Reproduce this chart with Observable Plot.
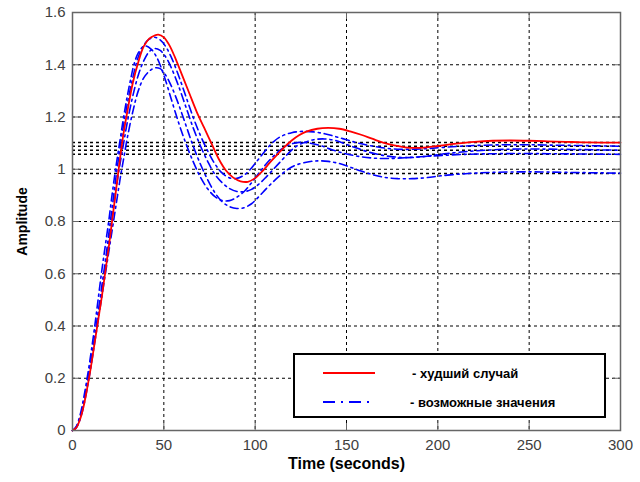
<!DOCTYPE html>
<html><head><meta charset="utf-8">
<script src="https://cdn.jsdelivr.net/npm/d3@7"></script>
<script src="https://cdn.jsdelivr.net/npm/@observablehq/plot@0.6"></script>
<style>body{margin:0;background:#fff} #chart{position:relative;width:640px;height:482px}</style>
</head><body><div id="chart"></div><script>
const xTicks = [0, 50, 100, 150, 200, 250, 300];
const yTicks = [0, 0.2, 0.4, 0.6, 0.8, 1, 1.2, 1.4, 1.6];
const yTickLabels = ["0", "0.2", "0.4", "0.6", "0.8", "1", "1.2", "1.4", "1.6"];
const steadyLevels = [1.102, 1.088, 1.073, 1.057, 0.984];
const legendLabels = ["- худший случай", "- возможные значения"];
const xLabel = "Time (seconds)";
const yLabel = "Amplitude";

// worst case (red)
const worstCase = [[0,0],[2,0.01],[4,0.04],[6,0.09],[8,0.16],[10,0.24],[12,0.33],[14,0.42],[16,0.51],[18,0.61],[20,0.71],[22,0.82],[24,0.93],[26,1.04],[28,1.14],[30,1.22],[33,1.33],[36,1.41],[39,1.47],[42,1.50],[45,1.512],[47,1.515],[50,1.505],[53,1.475],[56,1.43],[60,1.36],[64,1.29],[68,1.22],[72,1.16],[76,1.10],[80,1.04],[84,0.995],[88,0.968],[92,0.954],[96,0.952],[100,0.966],[104,0.993],[108,1.025],[112,1.055],[116,1.085],[120,1.11],[124,1.13],[128,1.144],[134,1.155],[140,1.158],[146,1.155],[152,1.145],[158,1.132],[164,1.117],[170,1.102],[176,1.091],[182,1.084],[188,1.082],[194,1.084],[200,1.089],[210,1.098],[220,1.105],[230,1.109],[240,1.11],[250,1.109],[260,1.107],[270,1.105],[280,1.103],[290,1.102],[300,1.102]];
// possible values (blue)
const possibleA = [[0,0],[2,0.012],[4,0.045],[6,0.10],[8,0.175],[10,0.26],[12,0.35],[14,0.45],[16,0.55],[18,0.65],[20,0.76],[22,0.87],[24,0.98],[26,1.08],[28,1.17],[30,1.25],[33,1.35],[36,1.43],[39,1.475],[42,1.498],[45,1.505],[48,1.495],[51,1.47],[54,1.43],[58,1.36],[62,1.28],[66,1.20],[70,1.13],[74,1.07],[78,1.02],[82,0.985],[86,0.967],[90,0.965],[94,0.978],[98,1.005],[102,1.04],[106,1.075],[110,1.105],[114,1.125],[120,1.14],[126,1.145],[132,1.143],[138,1.136],[144,1.125],[150,1.113],[156,1.101],[164,1.089],[172,1.08],[180,1.076],[188,1.077],[196,1.08],[210,1.087],[225,1.092],[245,1.094],[265,1.092],[285,1.09],[300,1.088]];
const possibleB = [[0,0],[2,0.012],[4,0.045],[6,0.10],[8,0.17],[10,0.255],[12,0.345],[14,0.44],[16,0.535],[18,0.63],[20,0.73],[22,0.83],[24,0.93],[26,1.02],[28,1.10],[30,1.18],[33,1.28],[36,1.36],[39,1.415],[42,1.45],[45,1.462],[48,1.455],[51,1.43],[54,1.39],[58,1.32],[62,1.24],[66,1.16],[70,1.09],[74,1.03],[78,0.98],[82,0.948],[86,0.926],[90,0.915],[94,0.914],[98,0.923],[102,0.943],[106,0.97],[110,1.0],[114,1.03],[118,1.06],[122,1.085],[126,1.10],[132,1.113],[138,1.116],[144,1.11],[150,1.095],[156,1.08],[162,1.066],[170,1.053],[178,1.046],[186,1.045],[194,1.05],[205,1.06],[220,1.07],[240,1.077],[260,1.077],[280,1.075],[300,1.073]];
const possibleC = [[0,0],[2,0.015],[4,0.055],[6,0.12],[8,0.20],[10,0.29],[12,0.39],[14,0.50],[16,0.61],[18,0.71],[20,0.81],[22,0.92],[24,1.02],[26,1.11],[28,1.20],[30,1.28],[32,1.35],[34,1.41],[36,1.445],[38,1.465],[40,1.472],[43,1.46],[46,1.43],[50,1.36],[54,1.27],[58,1.18],[62,1.10],[66,1.03],[70,0.97],[74,0.925],[78,0.895],[82,0.88],[86,0.88],[90,0.893],[94,0.915],[98,0.948],[102,0.985],[106,1.02],[110,1.05],[114,1.075],[118,1.092],[124,1.103],[130,1.10],[136,1.09],[142,1.075],[148,1.062],[156,1.05],[164,1.043],[172,1.041],[182,1.044],[195,1.05],[215,1.057],[240,1.06],[270,1.059],[300,1.057]];
const possibleD = [[0,0],[2,0.01],[4,0.04],[6,0.09],[8,0.16],[10,0.24],[12,0.33],[14,0.42],[16,0.51],[18,0.60],[20,0.69],[22,0.78],[24,0.87],[26,0.96],[28,1.04],[30,1.12],[33,1.22],[36,1.30],[39,1.35],[42,1.375],[45,1.388],[48,1.385],[51,1.36],[54,1.32],[58,1.25],[62,1.17],[66,1.09],[70,1.02],[74,0.96],[78,0.91],[82,0.875],[86,0.857],[90,0.85],[94,0.853],[98,0.868],[102,0.895],[106,0.925],[110,0.953],[114,0.978],[118,1.0],[122,1.015],[128,1.027],[134,1.032],[140,1.03],[146,1.022],[152,1.008],[158,0.993],[164,0.98],[170,0.97],[178,0.964],[186,0.964],[194,0.968],[202,0.975],[215,0.983],[230,0.988],[250,0.99],[270,0.988],[300,0.985]];

const toRows = (name, pts) => pts.map(([t, y]) => ({name, t, y}));
const redRows = toRows("worst", worstCase);
const blueRows = [
  ...toRows("A", possibleA), ...toRows("B", possibleB),
  ...toRows("C", possibleC), ...toRows("D", possibleD)
];

const W = 640, H = 482, mL = 72, mR = 20, mT = 12, mB = 52;
const plotW = W - mL - mR, plotH = H - mT - mB;
const gridStyle = {stroke: "#000", strokeWidth: 1, strokeDasharray: "3,3"};
const blueDash = "8,4,2,4";

const chart = Plot.plot({
  width: W, height: H,
  marginLeft: mL, marginRight: mR, marginTop: mT, marginBottom: mB,
  style: {fontFamily: "Arial, 'Liberation Sans', sans-serif", fontSize: "15px", color: "#404040", background: "#fff", overflow: "visible"},
  x: {domain: [0, 300]},
  y: {domain: [0, 1.6]},
  marks: [
    Plot.ruleX(xTicks.slice(1, -1), {x: d => d, ...gridStyle}),
    Plot.ruleY(yTicks.slice(1, -1), {y: d => d, ...gridStyle}),
    Plot.ruleY(steadyLevels, {y: d => d, ...gridStyle, strokeWidth: 1.5}),
    Plot.line(blueRows, {x: "t", y: "y", z: "name", stroke: "#0000ff", strokeWidth: 1.6, strokeDasharray: blueDash, curve: "catmull-rom"}),
    Plot.line(redRows, {x: "t", y: "y", stroke: "#ff0000", strokeWidth: 1.8, curve: "catmull-rom"}),
    Plot.tickX(xTicks, {x: d => d, stroke: "#666", insetTop: plotH - 7}),
    Plot.tickX(xTicks, {x: d => d, stroke: "#666", insetBottom: plotH - 7}),
    Plot.tickY(yTicks, {y: d => d, stroke: "#666", insetRight: plotW - 7}),
    Plot.tickY(yTicks, {y: d => d, stroke: "#666", insetLeft: plotW - 7}),
    Plot.frame({stroke: "#666", strokeWidth: 1.5}),
    Plot.axisX({ticks: xTicks, tickSize: 0, tickPadding: 9, tickFormat: d => String(d), label: null}),
    Plot.axisY({ticks: yTicks, tickSize: 0, tickPadding: 7, tickFormat: d => yTickLabels[yTicks.indexOf(d)], label: null}),
    Plot.text([xLabel], {text: d => d, frameAnchor: "bottom", dy: 38, fontWeight: "bold", fontSize: 16, fill: "#000"}),
    Plot.text([yLabel], {text: d => d, frameAnchor: "left", dx: -50, rotate: -90, textAnchor: "middle", fontWeight: "bold", fontSize: 14, fill: "#000"})
  ]
});
document.getElementById("chart").appendChild(chart);

// legend box inside the plot area
const svg = d3.select(chart);
const lg = svg.append("g").attr("font-family", "Arial, 'Liberation Sans', sans-serif").attr("text-anchor", "start");
const lx = 294, ly = 354, lw = 311, lh = 63;
lg.append("rect").attr("x", lx).attr("y", ly).attr("width", lw).attr("height", lh)
  .attr("fill", "#fff").attr("stroke", "#000").attr("stroke-width", 2);
const rowsY = [ly + 19, ly + 48];
lg.append("line").attr("x1", lx + 29).attr("x2", lx + 81).attr("y1", rowsY[0]).attr("y2", rowsY[0])
  .attr("stroke", "#ff0000").attr("stroke-width", 1.8);
lg.append("line").attr("x1", lx + 29).attr("x2", lx + 81).attr("y1", rowsY[1]).attr("y2", rowsY[1])
  .attr("stroke", "#0000ff").attr("stroke-width", 1.8).attr("stroke-dasharray", "12,6,2,6");
legendLabels.forEach((t, i) => {
  lg.append("text").attr("x", lx + (i === 0 ? 118 : 116)).attr("y", rowsY[i]).attr("dy", "0.35em")
    .attr("text-anchor", "start")
    .attr("font-size", 13).attr("font-weight", "bold").attr("fill", "#000").text(t);
});
</script></body></html>
